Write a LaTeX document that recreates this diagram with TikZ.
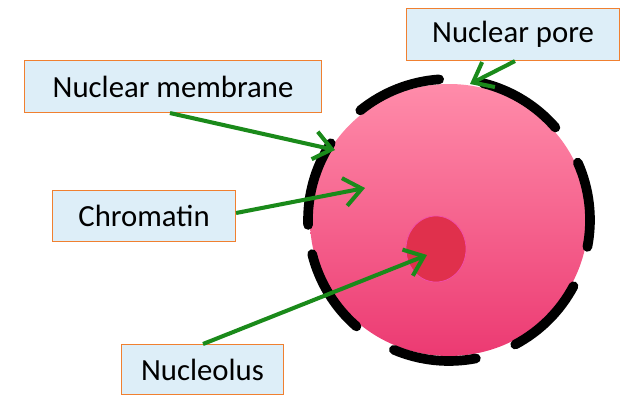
\documentclass[tikz,border=0pt]{standalone}
\usepackage{fontspec}
\setmainfont{Carlito}
\usetikzlibrary{arrows.meta,shapes.geometric}
\definecolor{boxfill}{HTML}{DDEEF8}
\definecolor{boxline}{HTML}{F08030}
\definecolor{arr}{HTML}{1A8A1A}
\definecolor{ptop}{HTML}{FF8CAA}
\definecolor{pbot}{HTML}{EC3A72}
\definecolor{nuc}{HTML}{E0304C}
\tikzset{
  lbl/.style={draw=boxline, fill=boxfill, line width=0.6pt, font=\fontsize{17.5}{20}\selectfont, inner sep=0pt, anchor=north west},
  pointer/.style={draw=arr, line width=2.3pt, -{Straight Barb[length=10pt,width=16pt,line width=2.3pt]}},
  memb/.style={line width=5.5pt, line cap=round, black}
}
\begin{document}
\begin{tikzpicture}[x=0.02cm,y=-0.02cm]
\useasboundingbox (0,0) rectangle (629,413);
\shade[top color=ptop, bottom color=pbot] (449,220) ellipse [x radius=139, y radius=136];
\node[draw=magenta!70, line width=0.4pt, fill=nuc, ellipse, minimum width=60*0.02cm, minimum height=66*0.02cm, inner sep=0pt] (nucl) at (436,249) {};
\foreach \a/\b in {94/129, 41/76, -11/24, -62/-28, -113/-79, -166/-131, 147/182}
  \draw[memb] ({449+141*cos(\a)},{220-141*sin(\a)}) arc[start angle=-\a, end angle=-\b, radius=141];
\node[lbl, minimum width=213*0.02cm, minimum height=52*0.02cm] (pore) at (406,8) {Nuclear pore};
\node[lbl, minimum width=297*0.02cm, minimum height=52*0.02cm] (mem) at (24,60) {Nuclear membrane};
\node[lbl, minimum width=183*0.02cm, minimum height=51*0.02cm] (chr) at (52,190) {Chromatin};
\node[lbl, minimum width=162*0.02cm, minimum height=50*0.02cm] (nlb) at (121,344) {Nucleolus};
\coordinate (tpore) at (470,84);
\coordinate (tmem) at (335,150);
\coordinate (tchr) at (365,188);
\coordinate (tnuc) at (427,255);
\draw[pointer] (pore.south -| 515,0) -- (tpore);
\draw[pointer] (mem.south -| 170,0) -- (tmem);
\draw[pointer] (chr.east |- 0,213) -- (tchr);
\draw[pointer] (nlb.north -| 203,0) -- (tnuc);
\end{tikzpicture}
\end{document}
